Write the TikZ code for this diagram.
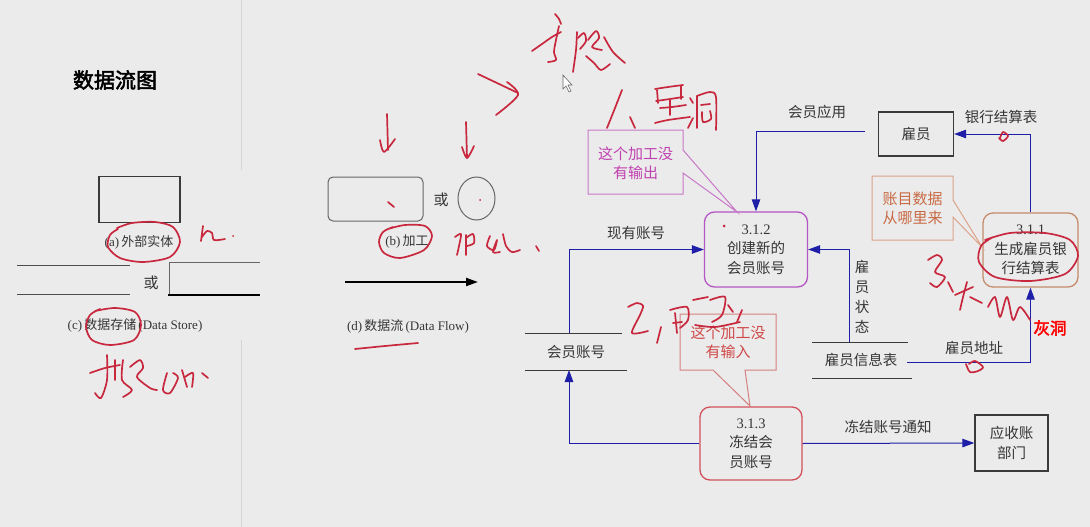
\documentclass[tikz,border=0pt]{standalone}
\usepackage{fontspec}
\setmainfont{Liberation Serif}
\newfontfamily\cjk{Noto Sans CJK SC}
\newfontfamily\cjkb{Noto Sans CJK SC}[FakeBold=2.5]
\usetikzlibrary{arrows.meta,calc,shapes.geometric}
\definecolor{bgc}{HTML}{EBEBEB}
\definecolor{txtc}{HTML}{353535}
\definecolor{boxc}{HTML}{3A3A3A}
\definecolor{flowc}{HTML}{1E1EA8}
\definecolor{handc}{HTML}{C8283E}
\definecolor{purp}{HTML}{B456C4}
\definecolor{brn}{HTML}{C48C6C}
\definecolor{redb}{HTML}{D2505A}
\definecolor{co1}{HTML}{C878C8}
\definecolor{co1t}{HTML}{C040B0}
\definecolor{co2}{HTML}{D48080}
\definecolor{co2t}{HTML}{D04848}
\definecolor{co3}{HTML}{DCA488}
\definecolor{co3t}{HTML}{C86A44}
\tikzset{
  txt/.style={text=txtc,inner sep=0pt,align=center,font=\cjk\fontsize{14.5}{20}\selectfont},
  smalltxt/.style={text=txtc,inner sep=0pt,align=center,font=\fontsize{13}{16}\selectfont},
  entbox/.style={draw=boxc,line width=1.3pt,text=txtc,inner sep=0pt,align=center,font=\cjk\fontsize{14.5}{20}\selectfont},
  procbox/.style={rounded corners=10pt,line width=1.3pt,text=txtc,inner sep=0pt,align=center,font=\cjk\fontsize{14.5}{19.5}\selectfont},
  flow/.style={draw=flowc,line width=1pt,-{Triangle[length=12pt,width=8.5pt]}},
  storeline/.style={draw=boxc,line width=1pt},
  hand/.style={draw=handc,line width=1.7pt,line cap=round,line join=round},
  callout/.style={line width=1pt,fill=bgc},
}
\begin{document}
\begin{tikzpicture}[x=1pt,y=-1pt]
\useasboundingbox (0,0) rectangle (1090,527);
\fill[bgc] (0,0) rectangle (1090,527);
% divider
\draw[draw=black!17,line width=0.8pt] (241,0) -- (241,170);
\draw[draw=black!17,line width=0.8pt] (241,340) -- (241,527);

% ---------- left legend ----------
\node[font=\cjkb\fontsize{21}{24}\selectfont,text=black] (title) at (115,80) {数据流图};

\node[entbox,minimum width=81pt,minimum height=46pt] (legent) at (139.5,199.5) {};
\node[smalltxt] (labA) at (139,242) {(a)\,{\cjk 外部实体}};

\draw[storeline,draw=black!70] (17,265) -- (130,265);
\draw[storeline,draw=black!70] (17,294) -- (130,294);
\node[txt,font=\cjk\fontsize{15}{18}\selectfont] (or1) at (151,283) {或};
\draw[draw=black!60,line width=1pt] (260,262) -- (169,262) -- (169,295);
\draw[draw=black,line width=2.6pt] (168,295) -- (260,295);
\node[smalltxt] (labC) at (135,325) {(c)\,{\cjk 数据存储}\,(Data Store)};

\node[draw=black!60,line width=1pt,rounded corners=5pt,minimum width=95pt,minimum height=44pt] (legproc) at (375.5,199) {};
\node[txt,font=\cjk\fontsize{15}{18}\selectfont] (or2) at (441,200) {或};
\node[draw=black!60,line width=1pt,ellipse,minimum width=37pt,minimum height=43pt,inner sep=0pt] (legcirc) at (476.5,198.5) {};
\node[smalltxt] (labB) at (407,242) {(b)\,{\cjk 加工}};

\coordinate (fa) at (345,282);
\coordinate (fb) at (478,282);
\draw[draw=black,line width=2pt,-{Triangle[length=12pt,width=8pt]}] (fa) -- (fb);
\node[smalltxt] (labD) at (408,326) {(d)\,{\cjk 数据流}\,(Data Flow)};

% ---------- right diagram ----------
\node[entbox,minimum width=75pt,minimum height=44pt] (emp) at (916,134) {雇员};
\node[entbox,minimum width=73pt,minimum height=56pt] (dept) at (1011.5,443) {应收账\\部门};

\node[procbox,draw=purp,minimum width=103pt,minimum height=75pt] (p312) at (756,249.5) {{\rmfamily 3.1.2}\\创建新的\\会员账号};
\node[procbox,draw=brn,minimum width=95pt,minimum height=74pt] (p311) at (1030.5,250) {{\rmfamily 3.1.1}\\生成雇员银\\行结算表};
\node[procbox,draw=redb,minimum width=102pt,minimum height=73pt] (p313) at (751,443.5) {{\rmfamily 3.1.3}\\冻结会\\员账号};

% data stores
\draw[storeline] (525,333) -- (622,333);
\draw[storeline] (525,370) -- (627,370);
\node[txt] (st1) at (576,352) {会员账号};
\coordinate (st1top) at (569,333);
\coordinate (st1bot) at (569,370);

\draw[storeline] (812,342) -- (908,342);
\draw[storeline] (812,378) -- (912,378);
\node[txt] (st2) at (861,360) {雇员信息表};
\coordinate (st2top) at (849,342);
\coordinate (st2right) at (907,362);

% connectors
\coordinate (appstart) at (865,131);
\draw[flow] (appstart) -| (p312.north);
\node[txt] (lapp) at (817,112) {会员应用};

\draw[flow] (p311.north) |- (emp.east);
\node[txt] (lbank) at (1001,117) {银行结算表};

\draw[flow] (st2right) -| (p311.south);
\node[txt] (laddr) at (974,348) {雇员地址};

\draw[flow] (st2top) |- (p312.east);
\node[txt,font=\cjk\fontsize{14.5}{20}\selectfont] (lstat) at (862,297) {雇\\员\\状\\态};

\draw[flow] (st1top) |- (p312.west);
\node[txt] (lacc) at (636,233) {现有账号};

\draw[flow] (p313.west) -| (st1bot);

\draw[flow] (p313.east) -- (dept.west);
\node[txt] (lfrz) at (888,427) {冻结账号通知};

% callouts
\draw[callout,draw=co1] (588,130) -- (683,130) -- (683,150) -- (737,212) -- (683,173) -- (683,194) -- (588,194) -- cycle;
\node[txt,text=co1t,font=\cjk\fontsize{15}{19}\selectfont] (c1) at (635.5,163) {这个加工没\\有输出};

\draw[callout,draw=co2] (680,314) -- (776,314) -- (776,370) -- (745,370) -- (750,406) -- (713,370) -- (680,370) -- cycle;
\node[txt,text=co2t,font=\cjk\fontsize{15}{19}\selectfont] (c2) at (728,342) {这个加工没\\有输入};

\draw[callout,draw=co3] (872,176) -- (953,176) -- (953,200) -- (982,247) -- (953,217) -- (953,240) -- (872,240) -- cycle;
\node[txt,text=co3t,font=\cjk\fontsize{15}{19}\selectfont] (c3) at (912.5,208.5) {账目数据\\从哪里来};

\node[text=red,inner sep=0pt,font=\cjkb\fontsize{16.5}{20}\selectfont] (gray) at (1050,328) {灰洞};

% mouse cursor
\draw[fill=white,draw=black!60,line width=0.6pt] (563,75) -- (563,89) -- (566,86) -- (569,92) -- (571,91) -- (568,85) -- (572,85) -- cycle;

% ---------- handwriting ----------
% top word
\draw[hand] plot[smooth] coordinates {(555,14) (559,19) (561,24)};
\draw[hand] plot[smooth] coordinates {(532,51) (542,44) (552,37) (561,32)};
\draw[hand] plot[smooth] coordinates {(559,26) (556,40) (554,52) (556,60) (548,62)};
\draw[hand] plot[smooth] coordinates {(577,32) (576,50) (573,72)};
\draw[hand] plot[smooth] coordinates {(578,38) (584,33) (586,41) (580,49)};
\draw[hand] plot[smooth] coordinates {(588,40) (596,31) (599,38) (592,47) (602,50)};
\draw[hand] plot[smooth] coordinates {(586,56) (594,63) (601,70) (610,64)};
\draw[hand] plot[smooth] coordinates {(604,37) (613,52) (625,63)};
% ">" arrow
\draw[hand] plot[smooth] coordinates {(478,74) (497,83) (518,93)};
\draw[hand] plot[smooth] coordinates {(507,82) (518,95) (496,115)};
% down arrows
\draw[hand] (387,114) -- (388,150);
\draw[hand] plot[smooth] coordinates {(380,140) (384,152) (395,139)};
\draw[hand] (466,122) -- (467,158);
\draw[hand] plot[smooth] coordinates {(462,147) (467,158) (474,146)};
% 1, black hole
\draw[hand] plot[smooth] coordinates {(622,90) (615,108) (607,128)};
\draw[hand] plot[smooth] coordinates {(630,117) (635,128)};
\draw[hand] plot[smooth] coordinates {(655,89) (668,87) (683,85)};
\draw[hand] plot[smooth] coordinates {(657,90) (658,103)};
\draw[hand] plot[smooth] coordinates {(656,101) (670,99) (683,97)};
\draw[hand] plot[smooth] coordinates {(681,86) (681,99)};
\draw[hand] plot[smooth] coordinates {(670,100) (670,115)};
\draw[hand] plot[smooth] coordinates {(660,108) (672,107) (686,105)};
\draw[hand] plot[smooth] coordinates {(655,123) (668,120) (690,117)};
\draw[hand] plot[smooth] coordinates {(690,98) (693,103)};
\draw[hand] plot[smooth] coordinates {(688,128) (693,118)};
\draw[hand] plot[smooth] coordinates {(697,96) (697,128)};
\draw[hand] plot[smooth] coordinates {(697,96) (710,92) (716,97) (716,130)};
\draw[hand] plot[smooth] coordinates {(701,105) (710,104)};
\draw[hand] plot[smooth] coordinates {(702,112) (703,122) (711,119) (710,111)};
% ellipse (a)
\draw[hand] plot[smooth] coordinates {(117,228) (132,223) (155,222) (173,227) (180,242) (170,257) (143,262) (120,258) (108,247) (110,235) (118,229)};
% h.
\draw[hand] plot[smooth] coordinates {(203,226) (201,241)};
\draw[hand] plot[smooth] coordinates {(202,237) (207,231) (212,233) (214,240) (225,239)};
\fill[handc] (233,236) circle (1pt);
% ellipse (c)
\draw[hand] plot[smooth] coordinates {(95,311) (115,308) (135,312) (141,325) (134,340) (110,345) (92,340) (86,327) (90,315) (100,309)};
% left bottom word
\draw[hand] plot[smooth] coordinates {(90,373) (105,368) (120,365)};
\draw[hand] plot[smooth] coordinates {(107,355) (107,380) (101,398) (95,393)};
\draw[hand] plot[smooth] coordinates {(115,360) (115,380)};
\draw[hand] plot[smooth] coordinates {(123,360) (122,380) (132,390) (123,397)};
\draw[hand] plot[smooth] coordinates {(130,367) (140,360) (143,368) (137,377) (150,388) (157,390)};
\draw[hand] plot[smooth] coordinates {(167,373) (163,390) (170,393) (178,378) (173,373)};
\draw[hand] plot[smooth] coordinates {(182,370) (187,387)};
\draw[hand] plot[smooth] coordinates {(185,377) (193,373) (192,387)};
\draw[hand] plot[smooth] coordinates {(202,373) (208,378)};
% marks in legend
\draw[hand] (388,202) -- (394,207);
\fill[handc] (480,200) circle (1pt);
% ellipse (b)
\draw[hand] plot[smooth] coordinates {(388,229) (405,225) (425,226) (432,236) (424,250) (400,258) (384,253) (379,242) (383,232) (393,227)};
% word after (b)
\draw[hand] plot[smooth] coordinates {(455,237) (461,234) (459,246) (457,255)};
\draw[hand] plot[smooth] coordinates {(466,235) (466,255)};
\draw[hand] plot[smooth] coordinates {(466,238) (473,234) (474,243) (467,246)};
\draw[hand] plot[smooth] coordinates {(490,236) (487,246) (494,250) (497,240) (493,252) (500,252)};
\draw[hand] plot[smooth] coordinates {(503,234) (506,246) (512,252) (520,250)};
\draw[hand] plot[smooth] coordinates {(536,246) (539,251)};
% underline (d)
\draw[hand] plot[smooth] coordinates {(355,349) (385,346) (418,343)};
% 2, miracle
\draw[hand] plot[smooth] coordinates {(628,307) (637,303) (643,306) (640,315) (632,333) (648,331)};
\draw[hand] plot[smooth] coordinates {(661,327) (657,343)};
\draw[hand] plot[smooth] coordinates {(670,310) (687,307) (688,320) (680,328)};
\draw[hand] plot[smooth] coordinates {(675,313) (677,333)};
\draw[hand] plot[smooth] coordinates {(673,323) (682,322)};
\draw[hand] plot[smooth] coordinates {(693,300) (708,297)};
\draw[hand] plot[smooth] coordinates {(710,300) (725,297) (722,315) (712,322)};
\draw[hand] plot[smooth] coordinates {(695,325) (715,327) (740,322)};
\draw[hand] plot[smooth] coordinates {(728,305) (733,312)};
\draw[hand] plot[smooth] coordinates {(742,310) (737,322)};
% red dot in 3.1.2
\fill[handc] (724,226) circle (1.5pt);
% ellipse 3.1.1
\draw[hand] plot[smooth] coordinates {(985,240) (1010,233) (1045,233) (1070,240) (1078,256) (1065,274) (1030,281) (995,277) (979,262) (981,246) (993,237)};
% 3, gray hole
\draw[hand] plot[smooth] coordinates {(928,260) (937,255) (942,260) (935,272) (945,277) (937,287) (930,283)};
\draw[hand] plot[smooth] coordinates {(948,282) (953,292)};
\draw[hand] plot[smooth] coordinates {(967,282) (963,297) (960,310)};
\draw[hand] plot[smooth] coordinates {(955,295) (964,291) (973,287)};
\draw[hand] plot[smooth] coordinates {(970,297) (982,303)};
\draw[hand] plot[smooth] coordinates {(988,307) (995,297) (1000,317) (1007,297) (1013,320) (1020,307) (1030,320)};
% small marks
\draw[hand] plot[smooth] coordinates {(1000,138) (1003,132) (1008,136) (1003,141) (999,138)};
\draw[hand] plot[smooth] coordinates {(966,364) (970,372) (978,371) (983,367) (975,361) (969,364)};
\end{tikzpicture}
\end{document}
